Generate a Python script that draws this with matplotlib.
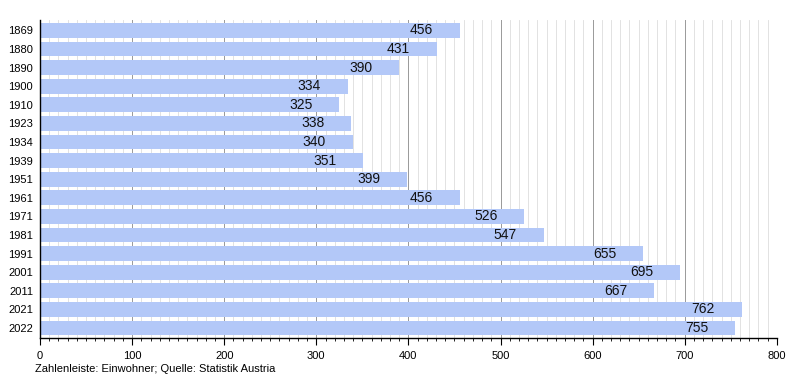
import numpy as np
import matplotlib.pyplot as plt
from matplotlib.ticker import MultipleLocator

plt.rcParams["font.family"] = ["Liberation Sans", "DejaVu Sans"]

years = ["1869", "1880", "1890", "1900", "1910", "1923", "1934", "1939", "1951",
         "1961", "1971", "1981", "1991", "2001", "2011", "2021", "2022"]
population = [456, 431, 390, 334, 325, 338, 340, 351, 399,
              456, 526, 547, 655, 695, 667, 762, 755]

fig = plt.figure(figsize=(8, 3.8), dpi=100)
ax = fig.add_axes([0.05, 0.11, 0.921, 0.837])

y = np.arange(len(years))
ax.barh(y, population, height=0.8, color="#b3c8f8", zorder=2)

# value labels sit just inside the bar end
for yi, v in zip(y, population):
    ax.text(v - 42, yi, str(v), ha="center", va="center", fontsize=10,
            color="#111", zorder=3)

ax.set_xlim(0, 800)
ax.set_ylim(len(years) - 0.45, -0.55)
ax.set_yticks(y)
ax.set_yticklabels(years, fontsize=8)
ax.tick_params(axis="y", length=0, pad=5)

ax.xaxis.set_major_locator(MultipleLocator(100))
ax.xaxis.set_minor_locator(MultipleLocator(10))
ax.tick_params(axis="x", which="major", direction="out", length=5, labelsize=8, pad=4)
ax.tick_params(axis="x", which="minor", direction="out", length=2.5)
ax.grid(axis="x", which="minor", color="#dddddd", lw=0.6, zorder=0)
ax.grid(axis="x", which="major", color="#999999", lw=0.7, zorder=1)

for s in ["top", "right"]:
    ax.spines[s].set_visible(False)
ax.spines["left"].set_linewidth(1)
ax.spines["bottom"].set_linewidth(1)

fig.text(0.044, 0.028, "Zahlenleiste: Einwohner; Quelle: Statistik Austria",
         fontsize=8, ha="left", va="center")

plt.savefig("out.png", dpi=100)
